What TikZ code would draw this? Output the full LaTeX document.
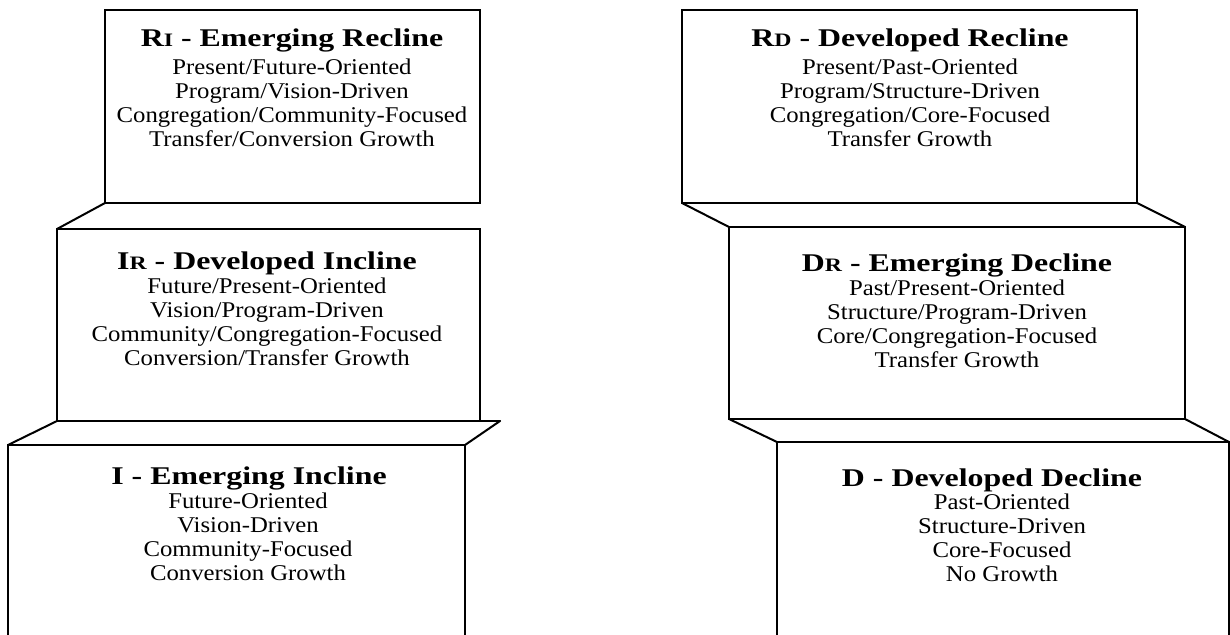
\documentclass[tikz,border=0pt]{standalone}
\usepackage{fontspec}
\setmainfont{Liberation Serif}[FakeStretch=1.10]
\newfontfamily\ttlfont{Liberation Serif}[FakeStretch=1.25]
\tikzset{
  stagebox/.style={draw=black, line width=2pt, inner sep=0pt, outer sep=0pt, anchor=north west},
  link/.style={draw=black, line width=2pt, line cap=round},
  ttl/.style={font=\ttlfont\fontsize{25.5}{30}\selectfont\bfseries, inner sep=0pt, anchor=base},
  body/.style={font=\fontsize{22.5}{24}\selectfont, align=center, inner sep=0pt, anchor=north}
}
\newcommand{\smc}[1]{{\fontsize{19}{22}\selectfont #1}}
\begin{document}
\begin{tikzpicture}[x=1pt,y=-1pt]
\useasboundingbox (0,0) rectangle (1230,634);
% left column
\node[stagebox, minimum width=375pt, minimum height=193pt] (ri) at (105,10) {};
\node[stagebox, minimum width=423pt, minimum height=192pt] (ir) at (57,229) {};
\node[stagebox, minimum width=457pt, minimum height=200pt] (i) at (8,445) {};
\coordinate (irx) at (500,421);
\draw[link] (ir.north west) -- (ri.south west);
\draw[link] (ir.south east) -- (irx);
\draw[link] (i.north east) -- (irx);
\draw[link] (i.north west) -- (ir.south west);
% right column
\node[stagebox, minimum width=455pt, minimum height=193pt] (rd) at (682,10) {};
\node[stagebox, minimum width=456pt, minimum height=192pt] (dr) at (729,227) {};
\node[stagebox, minimum width=452pt, minimum height=200pt] (d) at (777,442) {};
\draw[link] (rd.south west) -- (dr.north west);
\draw[link] (rd.south east) -- (dr.north east);
\draw[link] (dr.south west) -- (d.north west);
\draw[link] (dr.south east) -- (d.north east);
% texts
\node[ttl] (rit) at (292,46) {R\smc{I} - Emerging Recline};
\node[body] (rib) at (292,58.5) {Present/Future-Oriented\\Program/Vision-Driven\\Congregation/Community-Focused\\Transfer/Conversion Growth};
\node[ttl] (irt) at (267,269) {I\smc{R} - Developed Incline};
\node[body] (irb) at (267,277.5) {Future/Present-Oriented\\Vision/Program-Driven\\Community/Congregation-Focused\\Conversion/Transfer Growth};
\node[ttl] (it) at (249,484) {I - Emerging Incline};
\node[body] (ib) at (248,492.5) {Future-Oriented\\Vision-Driven\\Community-Focused\\Conversion Growth};
\node[ttl] (rdt) at (910,46) {R\smc{D} - Developed Recline};
\node[body] (rdb) at (910,58.5) {Present/Past-Oriented\\Program/Structure-Driven\\Congregation/Core-Focused\\Transfer Growth};
\node[ttl] (drt) at (957,271) {D\smc{R} - Emerging Decline};
\node[body] (drb) at (957,279.5) {Past/Present-Oriented\\Structure/Program-Driven\\Core/Congregation-Focused\\Transfer Growth};
\node[ttl] (dt) at (992,486) {D - Developed Decline};
\node[body] (db) at (1002,493.5) {Past-Oriented\\Structure-Driven\\Core-Focused\\No Growth};
\end{tikzpicture}
\end{document}
